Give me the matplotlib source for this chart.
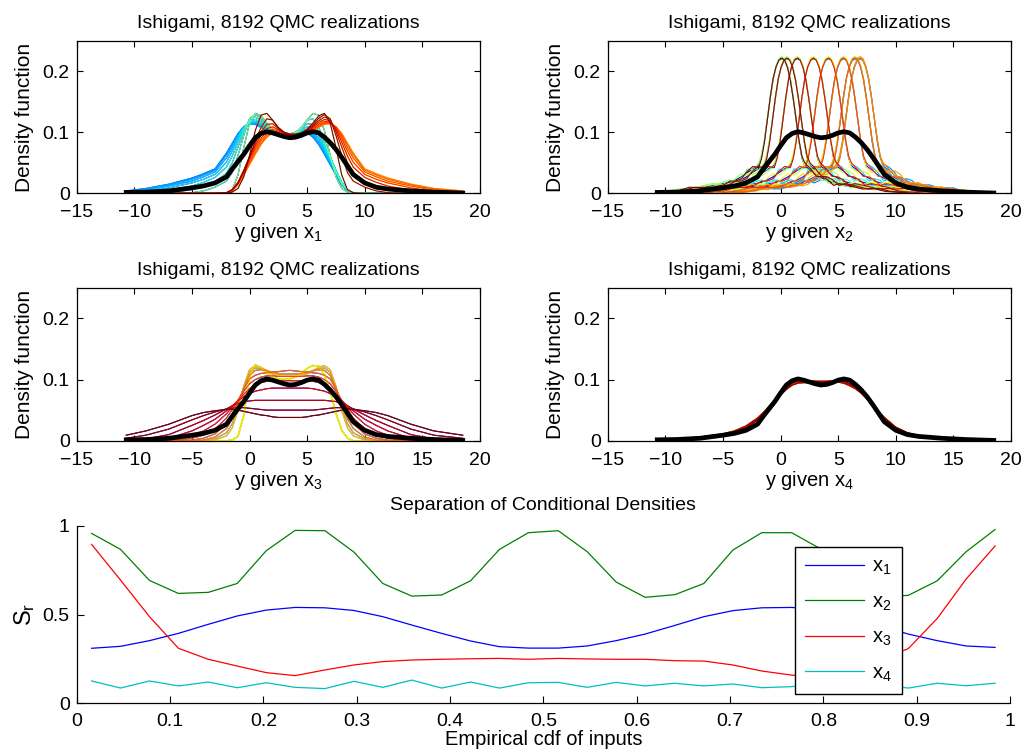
import matplotlib
matplotlib.use("Agg")
import matplotlib.pyplot as plt
import numpy as np

plt.rcParams["font.family"] = ["Liberation Sans", "DejaVu Sans"]
plt.rcParams["mathtext.fontset"] = "custom"
plt.rcParams["mathtext.rm"] = "Liberation Sans"
plt.rcParams["mathtext.it"] = "Liberation Sans:italic"

grid = [-10.7, -9, -7, -5, -4, -3, -2, -1.5, -1, -0.5, 0, 0.5, 1, 1.5, 2, 2.5, 3, 3.5,
        4, 4.5, 5, 5.5, 6, 6.5, 7, 7.5, 8, 8.5, 9, 10, 11, 12, 14, 16, 18.5]

# unconditional density (thick black line)
total_density = [.0015, .002, .004, .009, .012, .017, .027, .040, .052, .064, .078, .091, .098,
                 .101, .099, .096, .093, .091, .092, .095, .099, .101, .099, .092, .083, .072,
                 .059, .045, .031, .017, .010, .007, .004, .002, .0005]

# x1: densities for sin(x1) < 0, from |sin x1| ~ 0.1 up to ~1 (x1 > 0 side is the mirror)
x1_levels = [
    [0, 0, 0, 0, 0, 0, .001, .006, .030, .075, .115, .131, .127, .115, .105, .099, .097, .097,
     .100, .107, .120, .131, .128, .103, .062, .027, .008, .002, 0, 0, 0, 0, 0, 0, 0],
    [0, 0, 0, .001, .004, .010, .020, .034, .062, .095, .122, .129, .123, .112, .104, .099, .097, .097,
     .100, .108, .120, .122, .108, .086, .060, .036, .016, .005, .001, 0, 0, 0, 0, 0, 0],
    [0, 0, .001, .006, .011, .019, .033, .050, .076, .101, .121, .125, .119, .110, .103, .098, .096, .096,
     .099, .106, .114, .113, .101, .082, .060, .038, .018, .006, .001, 0, 0, 0, 0, 0, 0],
    [0, .001, .005, .012, .018, .026, .043, .061, .084, .105, .119, .121, .116, .108, .101, .097, .095, .095,
     .098, .104, .109, .106, .095, .078, .058, .037, .018, .006, .001, 0, 0, 0, 0, 0, 0],
    [.001, .003, .009, .017, .023, .031, .051, .069, .090, .107, .117, .118, .113, .106, .100, .096, .094, .094,
     .097, .102, .105, .101, .090, .074, .055, .035, .017, .006, .001, 0, 0, 0, 0, 0, 0],
    [.002, .005, .012, .020, .027, .035, .058, .075, .094, .108, .116, .116, .111, .105, .099, .095, .093, .094,
     .097, .101, .102, .097, .086, .070, .052, .033, .016, .005, .001, 0, 0, 0, 0, 0, 0],
    [.003, .007, .014, .023, .030, .038, .063, .080, .097, .109, .115, .114, .109, .103, .098, .094, .093, .094,
     .097, .100, .100, .094, .082, .066, .049, .031, .015, .005, .001, 0, 0, 0, 0, 0, 0],
    [.004, .008, .015, .025, .032, .040, .066, .082, .098, .109, .114, .113, .108, .102, .097, .094, .093, .094,
     .097, .100, .099, .092, .080, .064, .047, .030, .014, .004, .001, 0, 0, 0, 0, 0, 0],
]
x1_bin_level = [0, 1, 2, 3, 4, 5, 6, 7, 7, 6, 5, 4, 3, 2, 1, 0,
                0, 1, 2, 3, 4, 5, 6, 7, 7, 6, 5, 4, 3, 2, 1, 0]
x1_bin_mirrored = [0] * 16 + [1] * 16

# x2: one peak profile (offsets from the peak), four versions with different tails
x2_offsets = [-11, -10, -9, -8, -7, -6, -5, -4.5, -4, -3.5, -3, -2.5, -2, -1.75, -1.5, -1.25,
              -1, -0.75, -0.5, -0.25, 0, 0.25, 0.5, 0.75, 1, 1.25, 1.5, 1.75, 2, 2.5, 3, 3.5,
              4, 4.5, 5, 6, 7, 8, 9, 10, 11]
x2_profiles = [
    [0, .003, .006, .008, .010, .013, .016, .018, .022, .027, .034, .040, .046, .060, .086, .121,
     .156, .187, .207, .219, .222, .219, .207, .186, .155, .120, .085, .058, .045, .038, .030, .025,
     .020, .017, .014, .011, .009, .007, .005, .002, 0],
    [0, .002, .005, .009, .007, .011, .019, .022, .017, .021, .040, .038, .043, .062, .088, .123,
     .158, .188, .206, .217, .220, .218, .207, .188, .157, .121, .084, .060, .048, .043, .034, .020,
     .024, .021, .012, .014, .008, .009, .004, .003, 0],
    [0, .004, .007, .006, .012, .016, .012, .015, .025, .032, .030, .036, .050, .064, .089, .122,
     .154, .186, .208, .221, .224, .221, .209, .187, .154, .121, .088, .060, .042, .034, .037, .031,
     .017, .015, .018, .009, .011, .006, .006, .001, 0],
    [0, .002, .004, .010, .009, .010, .014, .020, .020, .024, .036, .044, .042, .057, .084, .120,
     .157, .188, .207, .218, .221, .218, .206, .185, .155, .121, .087, .061, .050, .040, .028, .027,
     .022, .013, .016, .012, .007, .008, .003, .002, 0],
]
x2_peaks = [0.10, 0.55, 1.45, 2.85, 4.15, 5.45, 6.45, 6.90, 6.90, 6.45, 5.45, 4.15, 2.85, 1.45, 0.55, 0.10,
            0.10, 0.55, 1.45, 2.85, 4.15, 5.45, 6.45, 6.90, 6.90, 6.45, 5.45, 4.15, 2.85, 1.45, 0.55, 0.10]
x2_bin_profile = [0] * 8 + [1] * 8 + [2] * 8 + [3] * 8

# x3: symmetric densities given as the left half up to y = 3.5, widest first
x3_halves = [
    [.009, .016, .027, .041, .046, .049, .051, .051, .050, .048, .046, .044, .042, .041, .039, .038, .038, .038],
    [.004, .009, .019, .034, .041, .047, .052, .053, .054, .054, .053, .052, .051, .050, .050, .050, .050, .050],
    [.001, .003, .010, .025, .033, .042, .052, .057, .061, .064, .065, .066, .066, .066, .066, .066, .066, .066],
    [0, .001, .004, .016, .025, .035, .049, .057, .065, .072, .077, .081, .083, .085, .086, .086, .086, .086],
    [0, 0, .001, .009, .016, .027, .044, .055, .066, .076, .085, .091, .095, .097, .098, .098, .098, .098],
    [0, 0, 0, .004, .009, .019, .037, .051, .066, .081, .093, .100, .104, .106, .106, .105, .105, .105],
    [0, 0, 0, .001, .004, .011, .028, .044, .064, .085, .101, .107, .110, .111, .112, .113, .114, .115],
    [0, 0, 0, 0, .001, .006, .020, .036, .060, .087, .107, .115, .116, .114, .112, .110, .109, .109],
    [0, 0, 0, 0, 0, .003, .013, .028, .054, .088, .112, .119, .118, .115, .111, .109, .108, .108],
    [0, 0, 0, 0, 0, .001, .008, .021, .049, .089, .116, .123, .120, .114, .109, .106, .105, .105],
]
x3_narrow = [0, 0, 0, 0, 0, 0, 0, .001, .007, .042, .104, .124, .119, .111, .105, .101, .100, .101,
             .104, .110, .118, .123, .122, .108, .080, .045, .017, .004, 0, 0, 0, 0, 0, 0, 0]
x3_bin_level = [0, 1, 2, 3, 4, 5, 6, 7, 8, 9, 10, 10, 10, 10, 10, 10,
                10, 10, 10, 10, 10, 10, 9, 8, 7, 6, 5, 4, 3, 2, 1, 0]

# x4 (dummy input): all conditional densities close to the unconditional one
x4_versions = [
    [.001, .002, .005, .010, .015, .023, .036, .045, .055, .065, .075, .084, .091, .095, .097, .097, .097, .097,
     .097, .097, .096, .094, .090, .085, .078, .069, .059, .048, .038, .022, .013, .008, .003, .001, 0],
    [.001, .002, .004, .009, .014, .021, .034, .044, .055, .066, .077, .087, .094, .098, .099, .098, .097, .096,
     .096, .097, .098, .097, .093, .087, .079, .069, .058, .047, .036, .020, .012, .007, .003, .001, 0],
    [.001, .003, .006, .011, .016, .024, .037, .046, .056, .066, .076, .085, .091, .094, .095, .095, .095, .096,
     .097, .098, .098, .096, .092, .086, .078, .068, .057, .046, .035, .021, .012, .008, .003, .001, 0],
]
x4_bin_version = [0, 1, 2] * 10 + [0, 1]

# separation of conditional densities
cdf_points = [0.016, 0.047, 0.078, 0.109, 0.141, 0.172, 0.203, 0.234, 0.266, 0.297, 0.328,
              0.359, 0.391, 0.422, 0.453, 0.484, 0.516, 0.547, 0.578, 0.609, 0.641, 0.672,
              0.703, 0.734, 0.766, 0.797, 0.828, 0.859, 0.891, 0.922, 0.953, 0.984]
sep_x1 = [.310, .321, .353, .394, .445, .492, .525, .540, .538, .523, .488, .441, .394, .351, .319, .311,
          .311, .323, .353, .390, .439, .488, .522, .538, .540, .528, .490, .440, .390, .353, .323, .315]
sep_x2 = [.957, .867, .692, .619, .625, .675, .859, .974, .972, .852, .675, .604, .610, .690, .867, .961,
          .972, .854, .683, .597, .612, .675, .863, .961, .961, .870, .680, .600, .608, .690, .854, .979]
sep_x3 = [.895, .694, .488, .310, .248, .210, .173, .156, .188, .216, .235, .244, .248, .251, .253, .248,
          .253, .250, .248, .248, .240, .238, .216, .182, .159, .150, .180, .240, .308, .478, .700, .886]
sep_x4 = [.126, .086, .126, .098, .120, .088, .116, .090, .083, .124, .090, .131, .086, .120, .086, .116,
          .118, .090, .118, .098, .113, .098, .109, .088, .094, .110, .090, .105, .086, .113, .099, .113]

jet = plt.cm.jet(np.linspace(0, 1, 32))
title = "Ishigami, 8192 QMC realizations"
g = np.array(grid)

fig = plt.figure(figsize=(10.25, 7.54), dpi=100)
ax1 = fig.add_axes([0.0748, 0.7436, 0.3935, 0.2024])
ax2 = fig.add_axes([0.5929, 0.7436, 0.3935, 0.2024])
ax3 = fig.add_axes([0.0748, 0.4155, 0.3935, 0.2029])
ax4 = fig.add_axes([0.5929, 0.4155, 0.3935, 0.2029])
ax5 = fig.add_axes([0.0748, 0.0672, 0.9106, 0.2355])

for k in range(32):
    d = np.array(x1_levels[x1_bin_level[k]])
    if x1_bin_mirrored[k]:
        d = d[::-1]
    ax1.plot(g, d, color=jet[k], lw=0.8)

    ax2.plot(np.array(x2_offsets) + x2_peaks[k], x2_profiles[x2_bin_profile[k]], color=jet[k], lw=0.8)

    lev = x3_bin_level[k]
    if lev < 10:
        h = np.array(x3_halves[lev])
        d3 = np.r_[h, h[-2::-1]]
    else:
        d3 = np.array(x3_narrow)
    ax3.plot(g, d3, color=jet[k], lw=0.8)

    ax4.plot(g, x4_versions[x4_bin_version[k]], color=jet[k], lw=0.8)

for i, ax in enumerate([ax1, ax2, ax3, ax4]):
    ax.plot(g, total_density, color="black", lw=3.4)
    ax.set_xlim(-15, 20)
    ax.set_ylim(0, 0.25)
    ax.set_xticks(range(-15, 21, 5))
    ax.set_yticks([0, 0.1, 0.2])
    ax.set_yticklabels(["0", "0.1", "0.2"])
    ax.tick_params(direction="in", top=True, right=True, length=4, width=0.8, labelsize=14)
    ax.tick_params(axis="x", pad=8)
    ax.tick_params(axis="y", pad=5)
    ax.set_title(title, fontsize=14, pad=9)
    ax.set_xlabel("y given $\\mathregular{x_%d}$" % (i + 1), fontsize=14.5, labelpad=0)
    ax.set_ylabel("Density function", fontsize=15, labelpad=6)
    for s in ax.spines.values():
        s.set_linewidth(0.9)

ax5.plot(cdf_points, sep_x1, color="blue", lw=0.9, label="$\\mathregular{x_1}$")
ax5.plot(cdf_points, sep_x2, color=(0, 0.5, 0), lw=0.9, label="$\\mathregular{x_2}$")
ax5.plot(cdf_points, sep_x3, color="red", lw=0.9, label="$\\mathregular{x_3}$")
ax5.plot(cdf_points, sep_x4, color=(0, 0.75, 0.75), lw=0.9, label="$\\mathregular{x_4}$")
ax5.set_xlim(0, 1)
ax5.set_ylim(0, 1)
ax5.set_xticks(np.arange(0, 1.01, 0.1))
ax5.set_xticklabels(["0", "0.1", "0.2", "0.3", "0.4", "0.5", "0.6", "0.7", "0.8", "0.9", "1"])
ax5.set_yticks([0, 0.5, 1])
ax5.set_yticklabels(["0", "0.5", "1"])
ax5.spines["top"].set_visible(False)
ax5.spines["right"].set_visible(False)
for s in ax5.spines.values():
    s.set_linewidth(0.9)
ax5.tick_params(direction="in", length=5, width=0.8, labelsize=14)
ax5.tick_params(axis="x", pad=7)
ax5.tick_params(axis="y", pad=5)
ax5.set_title("Separation of Conditional Densities", fontsize=14, pad=11)
ax5.set_xlabel("Empirical cdf of inputs", fontsize=14.5, labelpad=0)
ax5.set_ylabel("$\\mathregular{S_r}$", fontsize=17, labelpad=4)
leg = ax5.legend(loc="upper left", bbox_to_anchor=(0.77, 0.88), borderaxespad=0, fontsize=14.5,
                 handlelength=2.9, handletextpad=0.4, labelspacing=0.75, borderpad=0.5,
                 fancybox=False, framealpha=1)
leg.get_frame().set_edgecolor("black")
leg.get_frame().set_linewidth(1.0)

fig.savefig("out.png", dpi=100)
